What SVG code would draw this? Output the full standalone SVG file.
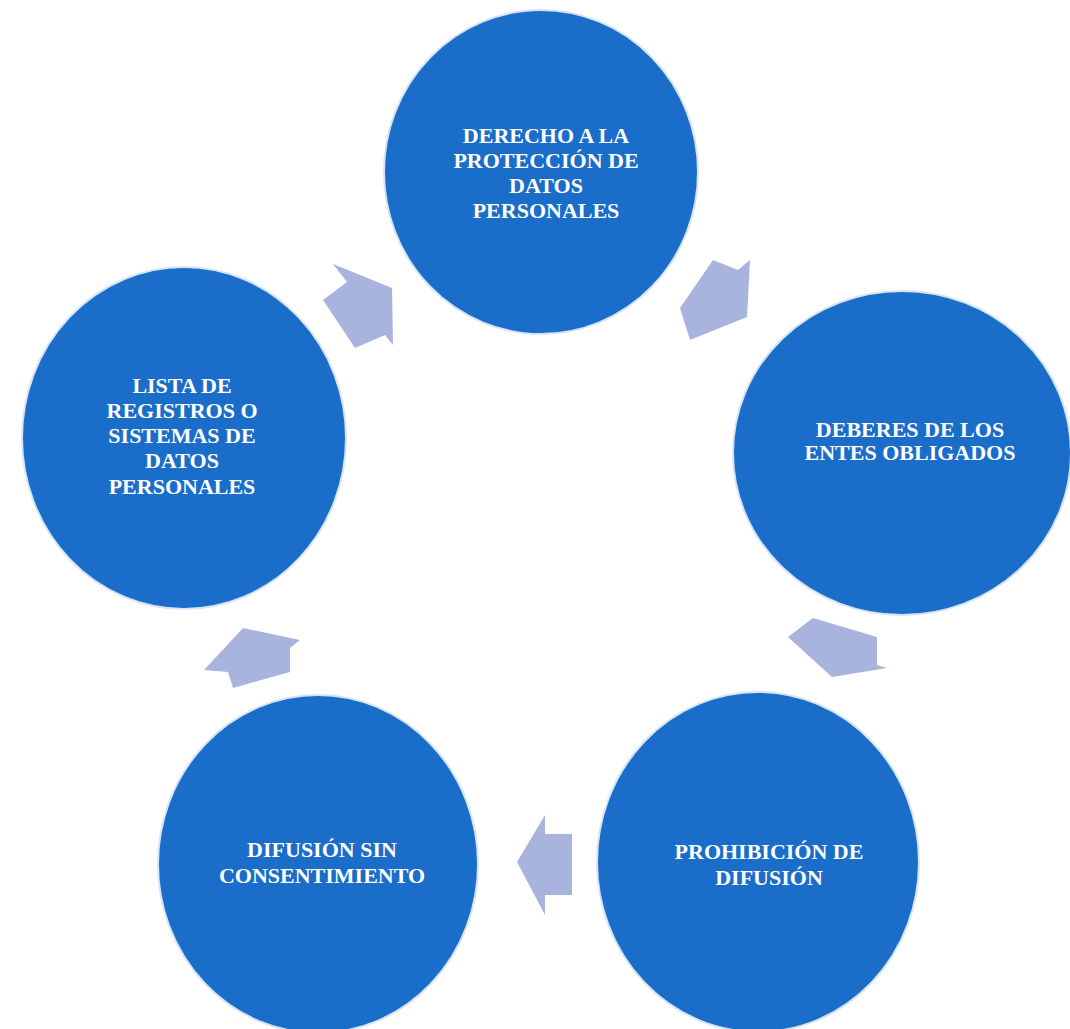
<svg xmlns="http://www.w3.org/2000/svg" width="1070" height="1029" viewBox="0 0 1070 1029">
<style>
.node{fill:#1a6dc8;stroke:#d6e4f5;stroke-width:2}
.lbl{font-family:"Liberation Serif","Times New Roman",serif;font-weight:bold;font-size:22px;fill:#ffffff;text-anchor:middle}
.arr{fill:#a8b4de}
</style>
<rect width="1070" height="1029" fill="#ffffff"/>
<g id="connectors">
<polygon class="arr" points="333,264 392,288 393,345 385,335 355,348 323,300 347,282"/>
<polygon class="arr" points="713,260 738,270 750,260 747,317 690,340 680,308"/>
<polygon class="arr" points="788,637 813,618 877,637 877,665 887,668 832,677"/>
<polygon class="arr" points="517,862 545,815 545,834 572,834 572,895 545,895 545,915"/>
<polygon class="arr" points="204,670 243,628 300,640 290,648 290,672 233,688 228,672"/>
</g>
<g id="node-derecho">
<ellipse class="node" cx="541" cy="172" rx="157" ry="162"/>
<text class="lbl" x="546" y="143">DERECHO A LA</text>
<text class="lbl" x="546" y="168">PROTECCIÓN DE</text>
<text class="lbl" x="546" y="193">DATOS</text>
<text class="lbl" x="546" y="218">PERSONALES</text>
</g>
<g id="node-deberes">
<ellipse class="node" cx="902" cy="453" rx="169" ry="162"/>
<text class="lbl" x="910" y="437">DEBERES DE LOS</text>
<text class="lbl" x="910" y="460">ENTES OBLIGADOS</text>
</g>
<g id="node-prohibicion">
<ellipse class="node" cx="758" cy="862" rx="161" ry="170"/>
<text class="lbl" x="769" y="859">PROHIBICIÓN DE</text>
<text class="lbl" x="769" y="885">DIFUSIÓN</text>
</g>
<g id="node-difusion">
<ellipse class="node" cx="318" cy="864" rx="160" ry="169"/>
<text class="lbl" x="322" y="857">DIFUSIÓN SIN</text>
<text class="lbl" x="322" y="883">CONSENTIMIENTO</text>
</g>
<g id="node-lista">
<ellipse class="node" cx="184" cy="438" rx="162" ry="171"/>
<text class="lbl" x="182" y="393">LISTA DE</text>
<text class="lbl" x="182" y="418">REGISTROS O</text>
<text class="lbl" x="182" y="443">SISTEMAS DE</text>
<text class="lbl" x="182" y="468">DATOS</text>
<text class="lbl" x="182" y="494">PERSONALES</text>
</g>
</svg>
